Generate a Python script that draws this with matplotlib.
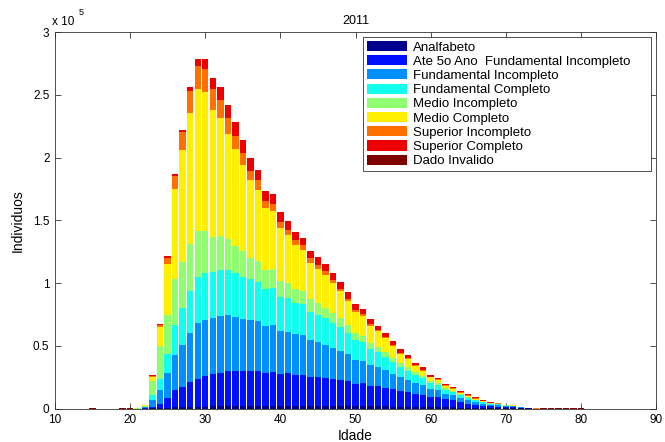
import matplotlib
matplotlib.use('Agg')
import matplotlib.pyplot as plt
import numpy as np

plt.rcParams['font.family'] = ['Liberation Sans', 'DejaVu Sans']

idades = list(range(15, 81))

categorias = ['Analfabeto', 'Ate 5o Ano  Fundamental Incompleto', 'Fundamental Incompleto',
              'Fundamental Completo', 'Medio Incompleto', 'Medio Completo',
              'Superior Incompleto', 'Superior Completo', 'Dado Invalido']

cores = ['#00008F', '#0010FF', '#008FFF', '#10FFEF', '#8FFF70',
         '#FFEF00', '#FF7000', '#EF0000', '#800000']

# idades 15..21 (quase vazias), 22..72, 73..80
analfabeto = [0, 0, 0, 0, 0, 0, 0,
              0, 100, 300, 500, 800, 1000, 1200, 1400, 1500, 1600, 1700, 1800, 1800, 1900,
              1900, 1900, 1900, 2000, 1900, 2000, 1900, 2000, 1900, 1900, 1900, 1900, 1800,
              1800, 1700, 1800, 1600, 1700, 1600, 1500, 1500, 1400, 1300, 1300, 1100, 1100,
              900, 900, 700, 600, 500, 400, 300, 300, 200, 200, 100,
              200, 0, 0, 0, 0, 0, 0, 0]
ate5 = [0, 0, 0, 0, 0, 0, 0,
        300, 1200, 3400, 8000, 13800, 16300, 19800, 22500, 24300, 25500, 26500, 27900, 27900, 27600,
        27800, 27800, 26500, 27000, 25200, 25900, 24800, 25000, 23500, 22900, 22400, 21600, 20900,
        19800, 17800, 18200, 16300, 16200, 15000, 13800, 12700, 11700, 10300, 9700, 8100, 8100,
        6400, 5800, 4500, 3300, 2600, 1900, 1400, 1200, 700, 600, 300,
        200, 0, 0, 0, 0, 0, 0, 0]
fund_inc = [0, 0, 0, 0, 0, 0, 0,
            500, 5300, 11400, 19900, 28400, 33200, 38800, 44400, 44600, 44900, 45400, 44700, 43300, 41900,
            40700, 40200, 37200, 37900, 34500, 32900, 32400, 31300, 29200, 28200, 26300, 25000, 23400,
            21600, 19400, 17800, 16500, 15200, 14100, 12400, 10600, 9600, 8400, 7500, 6100, 5300,
            4300, 3700, 3200, 2600, 2100, 1600, 1400, 1000, 800, 800, 400,
            0, 0, 0, 0, 0, 0, 0, 0]
fund_comp = [0, 0, 0, 0, 0, 0, 0,
             500, 4000, 8500, 15400, 23900, 29200, 33700, 36600, 37700, 36600, 36600, 35600, 34600, 33500,
             32400, 30800, 29800, 29000, 27100, 27100, 25200, 24700, 22500, 21400, 21200, 19400, 18600,
             16700, 15700, 15200, 13300, 11900, 10300, 9300, 8500, 7400, 6400, 5500, 4800, 4200,
             3400, 2900, 2400, 1900, 1300, 1000, 800, 800, 500, 500, 200,
             0, 0, 0, 0, 0, 0, 0, 0]
medio_inc = [0, 0, 0, 0, 0, 0, 100,
             800, 11700, 26100, 30600, 36400, 36900, 37200, 36400, 33200, 28400, 27600, 24700, 21800, 20500,
             17500, 17000, 14800, 15100, 13000, 12000, 10900, 10900, 9900, 9900, 8500, 7900, 7100,
             6600, 5300, 5000, 4200, 4300, 3800, 3500, 3200, 2700, 2400, 2200, 1500, 1600,
             1100, 1000, 800, 500, 500, 300, 200, 300, 200, 200, 100,
             0, 0, 0, 0, 0, 0, 0, 0]
medio_comp = [0, 0, 0, 0, 0, 0, 100,
              500, 2700, 15400, 40900, 71700, 89200, 104900, 112900, 110800, 101200, 93800, 84400, 77500, 69000,
              61400, 56800, 49200, 46200, 42000, 38200, 35100, 32400, 29200, 27100, 26000, 24500, 21800,
              19400, 17300, 16000, 14100, 12500, 11100, 9300, 6900, 6600, 5300, 3900, 3200, 2400,
              2100, 1500, 1000, 1100, 800, 500, 300, 300, 100, 200, 0,
              0, 0, 0, 0, 0, 0, 0, 0]
sup_inc = [0, 0, 0, 0, 0, 0, 100,
           200, 800, 1800, 4700, 10100, 14400, 17300, 19100, 18600, 16000, 14600, 12500, 10600, 8800,
           7900, 7200, 6300, 5900, 5000, 4500, 4000, 3700, 3500, 2900, 3500, 2100, 1400,
           1600, 1300, 1000, 1300, 700, 800, 800, 1100, 800, 800, 800, 600, 800,
           500, 600, 500, 500, 600, 500, 300, 200, 200, 100, 100,
           0, 200, 0, 0, 0, 0, 0, 0]
sup_comp = [0, 0, 0, 0, 0, 0, 100,
            100, 500, 800, 1900, 1900, 1800, 2900, 5000, 7600, 8800, 9800, 10600, 10600, 10900,
            10100, 8700, 8000, 8200, 8000, 7200, 6300, 6100, 5800, 6200, 5600, 5800, 5800,
            5100, 4800, 4300, 4000, 3500, 3500, 2900, 2900, 2200, 1600, 1900, 1300, 1100,
            800, 700, 800, 900, 800, 800, 500, 300, 100, 200, 0,
            0, 100, 0, 0, 0, 0, 0, 0]
dado_inv = [300, 0, 0, 0, 300, 300, 0,
            0, 0, 0, 0, 0, 0, 0, 0, 0, 0, 0, 0, 0, 0,
            0, 0, 0, 0, 0, 0, 0, 0, 0, 0, 0, 0, 0,
            0, 0, 0, 0, 0, 0, 0, 0, 0, 0, 0, 0, 0,
            0, 0, 0, 0, 0, 0, 0, 0, 0, 0, 0,
            100, 100, 300, 300, 300, 300, 300, 300]

series = [analfabeto, ate5, fund_inc, fund_comp, medio_inc, medio_comp, sup_inc, sup_comp, dado_inv]

fig = plt.figure(figsize=(6.65, 4.42), dpi=100)
ax = fig.add_axes([55/665, 1 - 408.5/442, 601/665, 376.5/442])

base = np.zeros(len(idades))
for vals, cor, nome in zip(series, cores, categorias):
    ax.bar(idades, vals, width=0.86, bottom=base, color=cor, linewidth=0, label=nome)
    base += np.array(vals)

ax.set_xlim(10, 90)
ax.set_ylim(0, 3e5)
ax.set_xticks(range(10, 91, 10))
ax.set_yticks(np.arange(0, 3.01e5, 0.5e5))
ax.yaxis.set_major_formatter(plt.FuncFormatter(lambda v, p: '%g' % (v / 1e5)))
ax.tick_params(direction='in', length=4, width=0.6, top=True, right=True, labelsize=8.5,
               color='#333333', pad=4)
ax.set_axisbelow(True)
for s in ax.spines.values():
    s.set_linewidth(0.6)
    s.set_color('#333333')
    s.set_zorder(0.5)

ax.text(-0.005, 1.01, 'x 10', transform=ax.transAxes, fontsize=8.5, ha='left', va='bottom')
ax.text(0.04, 1.04, '5', transform=ax.transAxes, fontsize=6.5, ha='left', va='bottom')

ax.set_title('2011', fontsize=9, pad=6)
ax.set_xlabel('Idade', fontsize=10, labelpad=2)
ax.set_ylabel('Individuos', fontsize=10, labelpad=6)

# caixa da legenda: x 363..651, y 37..170 (pixels)
leg = ax.legend(loc='upper left', bbox_to_anchor=(363/665, 1 - 170/442, 288/665, 133/442),
                bbox_transform=fig.transFigure, mode='expand',
                fontsize=9.5, frameon=True, fancybox=False, borderaxespad=0, handlelength=3.0,
                handleheight=0.8, labelspacing=0.12, borderpad=0.3, handletextpad=0.5)
leg.get_frame().set_edgecolor('black')
leg.get_frame().set_linewidth(0.6)

fig.savefig('out.png', dpi=100)
